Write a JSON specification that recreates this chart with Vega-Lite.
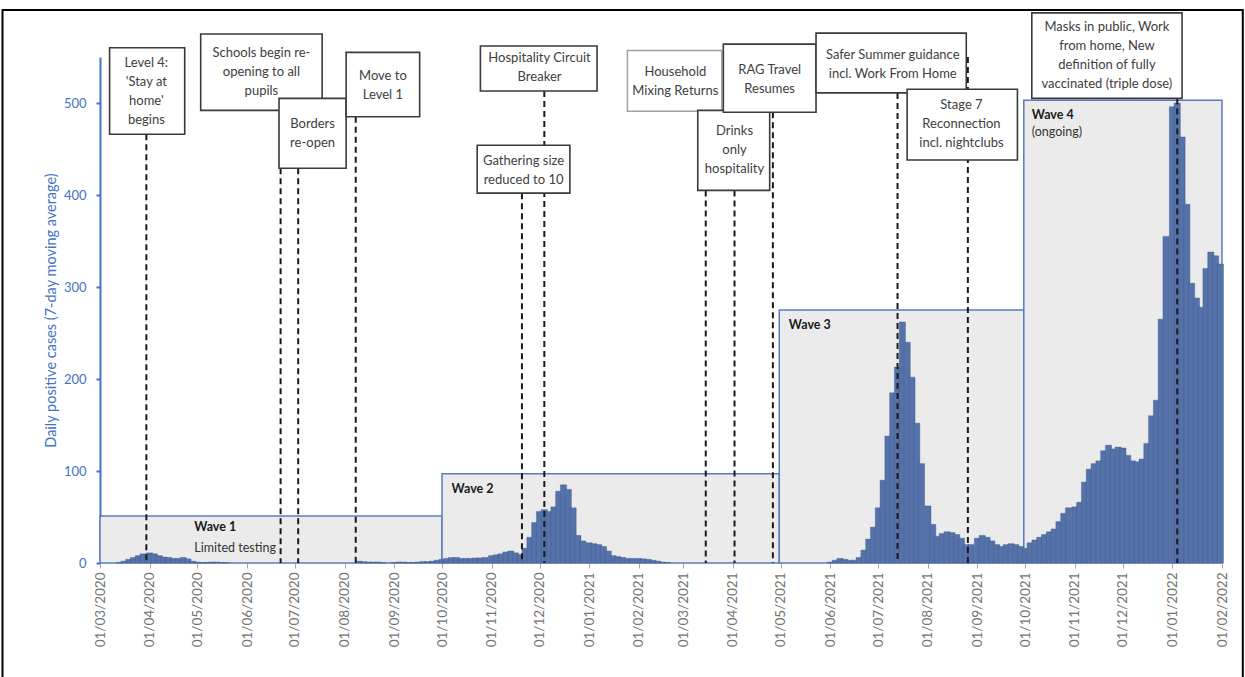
{
  "$schema": "https://vega.github.io/schema/vega-lite/v6.json",
  "width": 1122,
  "height": 506,
  "autosize": {"type": "none"},
  "padding": {"left": 100, "top": 57, "right": 23, "bottom": 114},
  "background": "white",
  "config": {"view": {"stroke": null}, "font": "Lato"},
  "datasets": {
    "cases": [
      {"date":"2020-03-13","cases":0.5},{"date":"2020-03-16","cases":2},{"date":"2020-03-19","cases":4},{"date":"2020-03-22","cases":6},{"date":"2020-03-25","cases":8},{"date":"2020-03-28","cases":10},
      {"date":"2020-04-01","cases":11},{"date":"2020-04-04","cases":10},{"date":"2020-04-07","cases":8},{"date":"2020-04-10","cases":6.5},{"date":"2020-04-13","cases":6},{"date":"2020-04-16","cases":5},{"date":"2020-04-19","cases":5},{"date":"2020-04-22","cases":6},{"date":"2020-04-25","cases":4.5},{"date":"2020-04-28","cases":2},
      {"date":"2020-05-01","cases":1},{"date":"2020-05-04","cases":0.5},{"date":"2020-05-07","cases":0.5},{"date":"2020-05-10","cases":1},{"date":"2020-05-13","cases":1},{"date":"2020-05-16","cases":0.5},{"date":"2020-05-19","cases":0.3},
      {"date":"2020-08-10","cases":2},{"date":"2020-08-13","cases":1.5},{"date":"2020-08-16","cases":1},{"date":"2020-08-19","cases":1},{"date":"2020-08-22","cases":1},{"date":"2020-08-25","cases":0.3},
      {"date":"2020-09-01","cases":0.5},{"date":"2020-09-04","cases":1},{"date":"2020-09-07","cases":1},{"date":"2020-09-10","cases":0.3},{"date":"2020-09-13","cases":0.5},{"date":"2020-09-16","cases":1},{"date":"2020-09-19","cases":1.5},{"date":"2020-09-22","cases":1.5},{"date":"2020-09-25","cases":2},{"date":"2020-09-28","cases":3},
      {"date":"2020-10-01","cases":4},{"date":"2020-10-04","cases":5},{"date":"2020-10-07","cases":6},{"date":"2020-10-10","cases":6},{"date":"2020-10-13","cases":5},{"date":"2020-10-16","cases":5},{"date":"2020-10-19","cases":5},{"date":"2020-10-22","cases":5.5},{"date":"2020-10-25","cases":5.5},{"date":"2020-10-28","cases":6},
      {"date":"2020-11-01","cases":8},{"date":"2020-11-04","cases":9},{"date":"2020-11-07","cases":10},{"date":"2020-11-10","cases":12},{"date":"2020-11-13","cases":13},{"date":"2020-11-16","cases":11},{"date":"2020-11-19","cases":9},{"date":"2020-11-22","cases":16},{"date":"2020-11-25","cases":28},{"date":"2020-11-28","cases":44},
      {"date":"2020-12-01","cases":56},{"date":"2020-12-04","cases":58},{"date":"2020-12-07","cases":56},{"date":"2020-12-10","cases":61},{"date":"2020-12-13","cases":78},{"date":"2020-12-16","cases":85},{"date":"2020-12-19","cases":80},{"date":"2020-12-22","cases":60},{"date":"2020-12-25","cases":30},{"date":"2020-12-28","cases":24},
      {"date":"2021-01-01","cases":22},{"date":"2021-01-04","cases":21},{"date":"2021-01-07","cases":20},{"date":"2021-01-10","cases":18},{"date":"2021-01-13","cases":13},{"date":"2021-01-16","cases":8},{"date":"2021-01-19","cases":7},{"date":"2021-01-22","cases":6},{"date":"2021-01-25","cases":5},{"date":"2021-01-28","cases":5},
      {"date":"2021-02-01","cases":5},{"date":"2021-02-04","cases":4.5},{"date":"2021-02-07","cases":4},{"date":"2021-02-10","cases":3},{"date":"2021-02-13","cases":2},{"date":"2021-02-16","cases":1},{"date":"2021-02-19","cases":0.5},
      {"date":"2021-06-01","cases":1},{"date":"2021-06-04","cases":3},{"date":"2021-06-07","cases":5},{"date":"2021-06-10","cases":4},{"date":"2021-06-13","cases":3},{"date":"2021-06-16","cases":3},{"date":"2021-06-19","cases":6},{"date":"2021-06-22","cases":14},{"date":"2021-06-25","cases":26},{"date":"2021-06-28","cases":39},
      {"date":"2021-07-01","cases":60},{"date":"2021-07-04","cases":90},{"date":"2021-07-07","cases":138},{"date":"2021-07-10","cases":185},{"date":"2021-07-13","cases":213},{"date":"2021-07-16","cases":262},{"date":"2021-07-19","cases":240},{"date":"2021-07-22","cases":202},{"date":"2021-07-25","cases":152},{"date":"2021-07-28","cases":108},
      {"date":"2021-08-01","cases":62},{"date":"2021-08-04","cases":42},{"date":"2021-08-07","cases":29},{"date":"2021-08-10","cases":32},{"date":"2021-08-13","cases":34},{"date":"2021-08-16","cases":33},{"date":"2021-08-19","cases":31},{"date":"2021-08-22","cases":27},{"date":"2021-08-25","cases":20},{"date":"2021-08-28","cases":20},
      {"date":"2021-09-01","cases":27},{"date":"2021-09-04","cases":30},{"date":"2021-09-07","cases":28},{"date":"2021-09-10","cases":24},{"date":"2021-09-13","cases":20},{"date":"2021-09-16","cases":18},{"date":"2021-09-19","cases":20},{"date":"2021-09-22","cases":21},{"date":"2021-09-25","cases":20},{"date":"2021-09-28","cases":18},
      {"date":"2021-10-01","cases":16},{"date":"2021-10-04","cases":22},{"date":"2021-10-07","cases":25},{"date":"2021-10-10","cases":28},{"date":"2021-10-13","cases":31},{"date":"2021-10-16","cases":34},{"date":"2021-10-19","cases":37},{"date":"2021-10-22","cases":45},{"date":"2021-10-25","cases":54},{"date":"2021-10-28","cases":60},
      {"date":"2021-11-01","cases":61},{"date":"2021-11-04","cases":66},{"date":"2021-11-07","cases":88},{"date":"2021-11-10","cases":102},{"date":"2021-11-13","cases":108},{"date":"2021-11-16","cases":111},{"date":"2021-11-19","cases":122},{"date":"2021-11-22","cases":128},{"date":"2021-11-25","cases":124},{"date":"2021-11-28","cases":126},
      {"date":"2021-12-01","cases":125},{"date":"2021-12-04","cases":117},{"date":"2021-12-07","cases":111},{"date":"2021-12-10","cases":110},{"date":"2021-12-13","cases":113},{"date":"2021-12-16","cases":130},{"date":"2021-12-19","cases":160},{"date":"2021-12-22","cases":177},{"date":"2021-12-25","cases":265},{"date":"2021-12-28","cases":355},
      {"date":"2022-01-01","cases":496},{"date":"2022-01-04","cases":500},{"date":"2022-01-07","cases":463},{"date":"2022-01-10","cases":390},{"date":"2022-01-13","cases":304},{"date":"2022-01-16","cases":288},{"date":"2022-01-19","cases":278},{"date":"2022-01-22","cases":320},{"date":"2022-01-25","cases":338},{"date":"2022-01-28","cases":334},{"date":"2022-01-31","cases":325}
    ],
    "waves": [
      {"wave":"Wave 1","note":"Limited testing","start":"2020-03-01","end":"2020-10-01","top":51,"lx":"2020-04-29","ly":39,"ny":16},
      {"wave":"Wave 2","note":"","start":"2020-10-01","end":"2021-04-30","top":97,"lx":"2020-10-07","ly":80,"ny":0},
      {"wave":"Wave 3","note":"","start":"2021-04-30","end":"2021-09-30","top":275,"lx":"2021-05-06","ly":259,"ny":0},
      {"wave":"Wave 4","note":"(ongoing)","start":"2021-09-30","end":"2022-02-01","top":503,"lx":"2021-10-05","ly":487,"ny":468}
    ],
    "events": [
      {"event":"Household","date":"2021-03-15","top":405,"start":"2021-01-25","end":"2021-03-25","lo":491,"hi":557,"tx":"2021-02-24","ty":534,"label":"Household\nMixing Returns"},
      {"event":"Level 4","date":"2020-03-30","top":466,"start":"2020-03-07","end":"2020-04-23","lo":466,"hi":560,"tx":"2020-03-30","ty":543.5,"label":"Level 4:\n'Stay at\nhome'\nbegins"},
      {"event":"Schools","date":"2020-06-22","top":429,"start":"2020-05-03","end":"2020-07-18","lo":492,"hi":575,"tx":"2020-06-10","ty":554,"label":"Schools begin re-\nopening to all\npupils"},
      {"event":"Borders","date":"2020-07-03","top":429,"start":"2020-06-21","end":"2020-08-02","lo":429,"hi":505,"tx":"2020-07-12","ty":477,"label":"Borders\nre-open"},
      {"event":"Move","date":"2020-08-08","top":485,"start":"2020-08-02","end":"2020-09-17","lo":485,"hi":555,"tx":"2020-08-25","ty":529,"label":"Move to\nLevel 1"},
      {"event":"Gathering","date":"2020-11-20","top":402,"start":"2020-10-23","end":"2020-12-20","lo":402,"hi":454,"tx":"2020-11-21","ty":437,"label":"Gathering size\nreduced to 10"},
      {"event":"Hospitality","date":"2020-12-04","top":513,"start":"2020-10-25","end":"2021-01-06","lo":513,"hi":562,"tx":"2020-12-01","ty":549,"label":"Hospitality Circuit\nBreaker"},
      {"event":"Drinks","date":"2021-04-02","top":405,"start":"2021-03-10","end":"2021-04-24","lo":405,"hi":492,"tx":"2021-04-02","ty":470,"label":"Drinks\nonly\nhospitality"},
      {"event":"RAG","date":"2021-04-26","top":490,"start":"2021-03-26","end":"2021-05-23","lo":490,"hi":564,"tx":"2021-04-24","ty":536,"label":"RAG Travel\nResumes"},
      {"event":"Safer","date":"2021-07-13","top":511,"start":"2021-05-23","end":"2021-08-25","lo":511,"hi":576,"tx":"2021-07-10","ty":552,"label":"Safer Summer guidance\nincl. Work From Home"},
      {"event":"Stage 7","date":"2021-08-26","top":550,"start":"2021-07-19","end":"2021-09-26","lo":438,"hi":515,"tx":"2021-08-22","ty":498,"label":"Stage 7\nReconnection\nincl. nightclubs"},
      {"event":"Masks","date":"2022-01-04","top":505,"start":"2021-10-05","end":"2022-01-07","lo":505,"hi":598,"tx":"2021-11-21","ty":583,"label":"Masks in public, Work\nfrom home, New\ndefinition of fully\nvaccinated (triple dose)"}
    ],
    "frame": [{"start":"2019-12-31","end":"2022-02-14","lo":-130,"hi":601}]
  },
  "layer": [
    {
      "data": {"name": "cases"},
      "mark": {"type": "bar", "size": 6.2, "fill": "#5572A9", "opacity": 0},
      "encoding": {
        "x": {"field": "date", "type": "temporal", "scale": {"type": "utc", "padding": 0, "domain": [{"year":2020,"month":3,"date":1,"utc":true},{"year":2022,"month":2,"date":1,"utc":true}]},
          "axis": {"title": null, "labelExpr": "utcFormat(datum.value, '%d/%m/%Y')", "tickCount": {"interval": "month", "step": 1}, "labelAngle": 270, "labelColor": "#737373", "labelFont": "Lato", "labelFontSize": 13.5, "labelPadding": 4, "labelOverlap": false, "labelFlush": false, "tickColor": "#A6A6A6", "tickSize": 5, "domain": false, "grid": false}},
        "y": {"field": "cases", "type": "quantitative", "scale": {"domain": [0, 550]},
          "axis": {"title": "Daily positive cases (7-day moving average)", "values": [0,100,200,300,400,500], "titleColor": "#4472C4", "titleFont": "Lato", "titleFontSize": 14.5, "titleFontWeight": "normal", "titlePadding": 5, "labelColor": "#4472C4", "labelFont": "Lato", "labelFontSize": 13, "labelPadding": 10, "domainColor": "#4472C4", "domainWidth": 2, "tickColor": "#4472C4", "tickSize": 4, "tickWidth": 2, "grid": false}}
      }
    },
    {
      "data": {"name": "frame"},
      "mark": {"type": "rect", "fill": null, "stroke": "#000000", "strokeWidth": 2},
      "encoding": {
        "x": {"field": "start", "type": "temporal"},
        "x2": {"field": "end"},
        "y": {"field": "lo", "type": "quantitative"},
        "y2": {"field": "hi"}
      }
    },
    {
      "data": {"name": "waves"},
      "mark": {"type": "rect", "fill": "#EBEBEB", "stroke": "#5B7BBF", "strokeWidth": 1.5},
      "encoding": {
        "x": {"field": "start", "type": "temporal"},
        "x2": {"field": "end"},
        "y": {"field": "top", "type": "quantitative"},
        "y2": {"datum": 0}
      }
    },
    {
      "data": {"name": "cases"},
      "mark": {"type": "bar", "size": 6.2, "fill": "#5572A9", "stroke": "#3E5A8E", "strokeWidth": 0.4},
      "encoding": {
        "x": {"field": "date", "type": "temporal"},
        "y": {"field": "cases", "type": "quantitative"}
      }
    },
    {
      "data": {"name": "events"},
      "mark": {"type": "rule", "color": "#1A1A1A", "strokeWidth": 2, "strokeDash": [6, 4]},
      "encoding": {
        "x": {"field": "date", "type": "temporal"},
        "y": {"field": "top", "type": "quantitative"},
        "y2": {"datum": 0}
      }
    },
    {
      "data": {"name": "events"},
      "transform": [{"filter": "datum.event === 'Household'"}],
      "mark": {"type": "rect", "fill": "#FFFFFF", "stroke": "#A0A0A0", "strokeWidth": 1.5},
      "encoding": {
        "x": {"field": "start", "type": "temporal"},
        "x2": {"field": "end"},
        "y": {"field": "lo", "type": "quantitative"},
        "y2": {"field": "hi"}
      }
    },
    {
      "data": {"name": "events"},
      "transform": [{"filter": "datum.event !== 'Household'"}],
      "mark": {"type": "rect", "fill": "#FFFFFF", "stroke": "#3A3A3A", "strokeWidth": 1.6},
      "encoding": {
        "x": {"field": "start", "type": "temporal"},
        "x2": {"field": "end"},
        "y": {"field": "lo", "type": "quantitative"},
        "y2": {"field": "hi"}
      }
    },
    {
      "data": {"name": "events"},
      "mark": {"type": "text", "lineBreak": "\n", "fontSize": 13, "lineHeight": 19, "color": "#404040", "align": "center", "baseline": "middle", "font": "Lato"},
      "encoding": {
        "x": {"field": "tx", "type": "temporal"},
        "y": {"field": "ty", "type": "quantitative"},
        "text": {"field": "label"}
      }
    },
    {
      "data": {"name": "waves"},
      "mark": {"type": "text", "fontSize": 12.5, "fontWeight": "bold", "color": "#1A1A1A", "align": "left", "baseline": "middle", "font": "Lato"},
      "encoding": {
        "x": {"field": "lx", "type": "temporal"},
        "y": {"field": "ly", "type": "quantitative"},
        "text": {"field": "wave"}
      }
    },
    {
      "data": {"name": "waves"},
      "transform": [{"filter": "datum.note !== ''"}],
      "mark": {"type": "text", "fontSize": 12.5, "color": "#333333", "align": "left", "baseline": "middle", "font": "Lato"},
      "encoding": {
        "x": {"field": "lx", "type": "temporal"},
        "y": {"field": "ny", "type": "quantitative"},
        "text": {"field": "note"}
      }
    }
  ]
}
